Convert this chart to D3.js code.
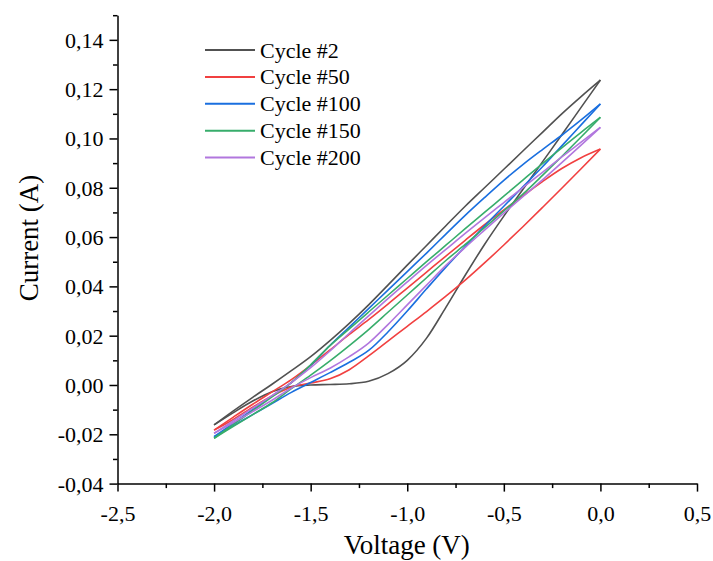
<!DOCTYPE html>
<html>
<head>
<meta charset="utf-8">
<script src="https://cdn.jsdelivr.net/npm/d3@7/dist/d3.min.js"></script>
<style>
  html, body { margin: 0; padding: 0; background: #fff; }
  svg { display: block; }
  text { font-family: "Liberation Serif", "Times New Roman", serif; fill: #000; }
</style>
</head>
<body>
<svg id="chart" width="713" height="561"></svg>
<script>
// ---------- data ----------
const voltage = [-2.0,-1.9,-1.8,-1.7,-1.6,-1.5,-1.4,-1.3,-1.2,-1.1,-1.0,-0.9,-0.8,-0.7,-0.6,-0.5,-0.4,-0.3,-0.2,-0.1,0.0];

const cycle2Upper   = [-0.0162,-0.0105,-0.0050,0.0003,0.0058,0.0115,0.0180,0.0250,0.0325,0.0405,0.0486,0.0566,0.0646,0.0725,0.0800,0.0875,0.0950,0.1025,0.1100,0.1170,0.1237];
const cycle2Lower   = [-0.0162,-0.0112,-0.0065,-0.0027,-0.0006,0.0000,0.0002,0.0005,0.0015,0.0046,0.0100,0.0190,0.0315,0.0445,0.0570,0.0685,0.0795,0.0905,0.1015,0.1126,0.1237];
const cycle50Upper  = [-0.0183,-0.0130,-0.0078,-0.0028,0.0022,0.0080,0.0142,0.0205,0.0265,0.0328,0.0393,0.0458,0.0523,0.0587,0.0650,0.0710,0.0768,0.0825,0.0878,0.0922,0.0957];
const cycle50Lower  = [-0.0183,-0.0140,-0.0090,-0.0045,-0.0008,0.0008,0.0025,0.0062,0.0118,0.0178,0.0238,0.0298,0.0360,0.0425,0.0495,0.0568,0.0643,0.0720,0.0798,0.0877,0.0957];
const cycle100Upper = [-0.0210,-0.0155,-0.0100,-0.0045,0.0010,0.0080,0.0160,0.0235,0.0310,0.0385,0.0460,0.0535,0.0612,0.0688,0.0760,0.0830,0.0895,0.0955,0.1013,0.1075,0.1140];
const cycle100Lower = [-0.0210,-0.0165,-0.0120,-0.0075,-0.0030,0.0010,0.0050,0.0092,0.0140,0.0215,0.0300,0.0390,0.0478,0.0562,0.0645,0.0725,0.0805,0.0885,0.0970,0.1055,0.1140];
const cycle150Upper = [-0.0216,-0.0160,-0.0104,-0.0048,0.0010,0.0082,0.0160,0.0228,0.0296,0.0364,0.0432,0.0500,0.0567,0.0634,0.0700,0.0766,0.0832,0.0898,0.0962,0.1025,0.1086];
const cycle150Lower = [-0.0216,-0.0168,-0.0120,-0.0072,-0.0015,0.0040,0.0098,0.0160,0.0225,0.0295,0.0365,0.0435,0.0505,0.0570,0.0638,0.0706,0.0775,0.0850,0.0927,0.1006,0.1086];
const cycle200Upper = [-0.0196,-0.0145,-0.0094,-0.0043,0.0010,0.0070,0.0138,0.0210,0.0280,0.0350,0.0418,0.0485,0.0550,0.0615,0.0678,0.0740,0.0802,0.0862,0.0925,0.0985,0.1045];
const cycle200Lower = [-0.0196,-0.0152,-0.0108,-0.0062,-0.0012,0.0030,0.0068,0.0115,0.0170,0.0245,0.0325,0.0405,0.0485,0.0558,0.0628,0.0697,0.0765,0.0832,0.0902,0.0973,0.1045];

const seriesNames  = ["Cycle #2", "Cycle #50", "Cycle #100", "Cycle #150", "Cycle #200"];
const seriesColors = ["#515151", "#F14040", "#1A6FDF", "#37AD6B", "#B177DE"];
const seriesUpper  = [cycle2Upper, cycle50Upper, cycle100Upper, cycle150Upper, cycle200Upper];
const seriesLower  = [cycle2Lower, cycle50Lower, cycle100Lower, cycle150Lower, cycle200Lower];

const xTicks = [-2.5, -2.0, -1.5, -1.0, -0.5, 0.0, 0.5];
const yTicks = [-0.04, -0.02, 0.00, 0.02, 0.04, 0.06, 0.08, 0.10, 0.12, 0.14];
const xMinorTicks = [-2.25, -1.75, -1.25, -0.75, -0.25, 0.25];
const yMinorTicks = [-0.03, -0.01, 0.01, 0.03, 0.05, 0.07, 0.09, 0.11, 0.13, 0.15];

// ---------- layout ----------
const svg = d3.select("#chart");
const mLeft = 117.5, mRight = 697, mTop = 15.2, mBottom = 483.6;

const x = d3.scaleLinear().domain([-2.5, 0.5]).range([mLeft, mRight]);
const y = d3.scaleLinear().domain([-0.04, 0.15]).range([mBottom, mTop]);

const fmtX = v => v.toFixed(1).replace(".", ",");
const fmtY = v => v.toFixed(2).replace(".", ",");

// minor ticks
svg.append("g")
  .attr("transform", `translate(0,${mBottom})`)
  .call(d3.axisBottom(x).tickValues(xMinorTicks).tickSize(4.5).tickFormat(""))
  .call(g => g.select(".domain").remove())
  .call(g => g.selectAll("line").attr("stroke", "#000").attr("stroke-width", 1.5));
svg.append("g")
  .attr("transform", `translate(${mLeft},0)`)
  .call(d3.axisLeft(y).tickValues(yMinorTicks).tickSize(4.5).tickFormat(""))
  .call(g => g.select(".domain").remove())
  .call(g => g.selectAll("line").attr("stroke", "#000").attr("stroke-width", 1.5));

// major axes
const xAxis = svg.append("g")
  .attr("transform", `translate(0,${mBottom})`)
  .call(d3.axisBottom(x).tickValues(xTicks).tickSize(8).tickSizeOuter(0).tickPadding(14).tickFormat(fmtX));
const yAxis = svg.append("g")
  .attr("transform", `translate(${mLeft},0)`)
  .call(d3.axisLeft(y).tickValues(yTicks).tickSize(8).tickSizeOuter(0).tickPadding(6).tickFormat(fmtY));

[xAxis, yAxis].forEach(g => {
  g.select(".domain").attr("stroke", "#000").attr("stroke-width", 1.5);
  g.selectAll(".tick line").attr("stroke", "#000").attr("stroke-width", 1.5);
  g.selectAll(".tick text")
    .attr("font-family", '"Liberation Serif", "Times New Roman", serif')
    .attr("font-size", 22).attr("fill", "#000");
});
yAxis.selectAll(".tick text").attr("dy", "0.34em");
xAxis.selectAll(".tick text").attr("dy", "0.71em");

// axis titles
svg.append("text")
  .attr("x", (x(-2.5) + x(0.5)) / 2 - 0.5)
  .attr("y", 554)
  .attr("text-anchor", "middle")
  .attr("font-size", 27)
  .text("Voltage (V)");
svg.append("text")
  .attr("transform", `translate(38,${238}) rotate(-90)`)
  .attr("text-anchor", "middle")
  .attr("font-size", 27)
  .text("Current (A)");

// curves
const line = d3.line()
  .x(d => x(d[0]))
  .y(d => y(d[1]))
  .curve(d3.curveMonotoneX);

const plot = svg.append("g");
seriesNames.forEach((name, k) => {
  [seriesUpper[k], seriesLower[k]].forEach(branch => {
    plot.append("path")
      .datum(voltage.map((v, j) => [v, branch[j]]))
      .attr("fill", "none")
      .attr("stroke", seriesColors[k])
      .attr("stroke-width", 1.6)
      .attr("stroke-linejoin", "round")
      .attr("d", line);
  });
});

// legend
const legend = svg.append("g");
const legendY = d3.scaleLinear().domain([0, 4]).range([50, 157.5]);
seriesNames.forEach((name, k) => {
  const ly = legendY(k);
  legend.append("line")
    .attr("x1", 205).attr("x2", 255)
    .attr("y1", ly).attr("y2", ly)
    .attr("stroke", seriesColors[k]).attr("stroke-width", 2);
  legend.append("text")
    .attr("x", 260).attr("y", ly + 7.5)
    .attr("font-size", 22)
    .text(name);
});
</script>
</body>
</html>
